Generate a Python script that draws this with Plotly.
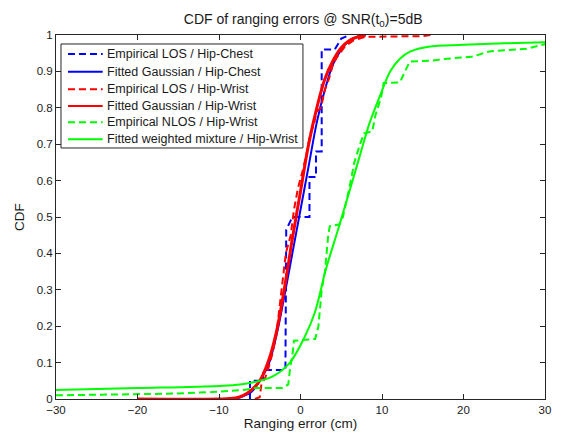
import plotly.graph_objects as go

# Empirical LOS / Hip-Chest
emp_chest_x = [-6.2, -6.2, -4.6, -4.6, -1.85, -1.75, -1.0, 1.1, 1.1, 1.9, 1.9, 2.6, 2.6, 4.2, 5.0, 6.0]
emp_chest_y = [0.0, 0.05, 0.05, 0.08, 0.08, 0.465, 0.50, 0.50, 0.61, 0.61, 0.68, 0.68, 0.96, 0.96, 0.99, 1.0]

# Fitted Gaussian / Hip-Chest
fit_chest_x = [-8, -7, -6, -5, -4, -3, -2, -1, 0, 1, 2, 3, 4, 5, 6, 7, 8]
fit_chest_y = [0.0, 0.008, 0.02, 0.05, 0.09, 0.17, 0.28, 0.40, 0.52, 0.64, 0.76, 0.85, 0.92, 0.96, 0.985, 0.995, 1.0]

# Empirical LOS / Hip-Wrist
emp_wrist_x = [-5.6, -5.0, -4.8, -4.3, -4.0, -3.5, -3.0, -2.6, -2.2, -1.8, -1.2, -0.8, -0.3, 0.3, 0.8, 1.2, 1.6,
               2.0, 2.5, 3.0, 3.5, 4.0, 4.5, 5.5, 6.5, 8.0, 15.0, 16.0]
emp_wrist_y = [0.0, 0.005, 0.04, 0.06, 0.08, 0.12, 0.17, 0.25, 0.33, 0.40, 0.45, 0.52, 0.58, 0.63, 0.68, 0.73, 0.75,
               0.79, 0.80, 0.85, 0.88, 0.92, 0.94, 0.97, 0.985, 0.995, 0.997, 1.0]

# Fitted Gaussian / Hip-Wrist
fit_wrist_x = [-20, -10, -8, -7, -6, -5, -4, -3, -2, -1, 0, 1, 2, 3, 4, 5, 6, 7, 8]
fit_wrist_y = [0.0, 0.0, 0.003, 0.01, 0.025, 0.05, 0.10, 0.18, 0.30, 0.44, 0.57, 0.70, 0.80, 0.88, 0.93, 0.965, 0.985, 0.995, 1.0]

# Empirical NLOS / Hip-Wrist
emp_nlos_x = [-30, -20, -15, -10, -7, -5.5, -2.2, -1.5, -1.3, -1.0, -0.8, 1.8, 2.2, 2.6, 3.0, 3.4, 3.6, 4.8, 5.2,
              6.0, 6.6, 7.3, 7.8, 8.8, 9.2, 9.9, 10.2, 12.2, 12.8, 13.4, 16.3, 18, 21, 23.2, 27.7, 30]
emp_nlos_y = [0.01, 0.012, 0.015, 0.02, 0.025, 0.03, 0.03, 0.04, 0.08, 0.12, 0.16, 0.165, 0.20, 0.30, 0.35, 0.45,
              0.475, 0.48, 0.50, 0.58, 0.65, 0.70, 0.73, 0.735, 0.78, 0.83, 0.868, 0.87, 0.90, 0.927, 0.93, 0.935,
              0.94, 0.955, 0.962, 0.975]

# Fitted weighted mixture / Hip-Wrist
fit_nlos_x = [-30, -20, -10, -7.4, -5, -3.4, -1.3, 0.5, 1.75, 3.1, 4.6, 6.0, 7.3, 8.5, 9.7, 11, 12.2, 13.5, 15.7, 20, 25, 30]
fit_nlos_y = [0.025, 0.03, 0.036, 0.04, 0.05, 0.062, 0.10, 0.17, 0.237, 0.355, 0.465, 0.57, 0.67, 0.76, 0.83, 0.90,
              0.935, 0.955, 0.968, 0.973, 0.977, 0.98]

x_ticks = [-30, -20, -10, 0, 10, 20, 30]
y_ticks = [0, 0.1, 0.2, 0.3, 0.4, 0.5, 0.6, 0.7, 0.8, 0.9, 1]
y_tick_labels = ["0", "0.1", "0.2", "0.3", "0.4", "0.5", "0.6", "0.7", "0.8", "0.9", "1"]

BLUE = "rgb(0,0,255)"
RED = "rgb(255,0,0)"
GREEN = "rgb(0,255,0)"
DASH = "7px,4px"
TXT = "#1a1a1a"

series = [
    ("Empirical LOS / Hip-Chest", emp_chest_x, emp_chest_y, BLUE, 2, DASH, "linear"),
    ("Fitted Gaussian / Hip-Chest", fit_chest_x, fit_chest_y, BLUE, 2, "solid", "spline"),
    ("Empirical LOS / Hip-Wrist", emp_wrist_x, emp_wrist_y, RED, 2, DASH, "linear"),
    ("Fitted Gaussian / Hip-Wrist", fit_wrist_x, fit_wrist_y, RED, 3, "solid", "spline"),
    ("Empirical NLOS / Hip-Wrist", emp_nlos_x, emp_nlos_y, GREEN, 2, DASH, "linear"),
    ("Fitted weighted mixture / Hip-Wrist", fit_nlos_x, fit_nlos_y, GREEN, 2, "solid", "spline"),
]

fig = go.Figure()
for name, xs, ys, col, w, dash, shape in series:
    fig.add_trace(go.Scatter(x=xs, y=ys, mode="lines", name=name, showlegend=False,
                             line=dict(color=col, width=w, dash=dash, shape=shape)))

# Legend box drawn in MATLAB style (paper coordinates of the plot area)
shapes = [dict(type="rect", xref="paper", yref="paper", x0=0.0102, x1=0.505, y0=0.6896, y1=0.9753,
               line=dict(color="#262626", width=1), fillcolor="white", layer="above")]
annotations = []
row_y = [0.9478, 0.8992, 0.8508, 0.8049, 0.7602, 0.7135]
for (name, xs, ys, col, w, dash, shape), ry in zip(series, row_y):
    shapes.append(dict(type="line", xref="paper", yref="paper", x0=0.0245, x1=0.0955, y0=ry, y1=ry,
                       line=dict(color=col, width=2, dash=dash), layer="above"))
    annotations.append(dict(text=name, xref="paper", yref="paper", x=0.1002, y=ry, xanchor="left",
                            yanchor="middle", showarrow=False, font=dict(size=12.5, color=TXT)))

axis_common = dict(showline=True, linecolor="#262626", linewidth=1, mirror="ticks", ticks="inside",
                   ticklen=5, tickcolor="#262626", showgrid=False, zeroline=False, automargin=False,
                   tickfont=dict(size=11.5, color=TXT))

fig.update_layout(
    width=557, height=428,
    margin=dict(l=48, r=20, t=27, b=37),
    paper_bgcolor="white", plot_bgcolor="white",
    font=dict(family="Liberation Sans, Arial, sans-serif", size=12, color=TXT),
    title=dict(text="CDF of ranging errors @ SNR(t<sub>0</sub>)=5dB", x=0.53, xanchor="center",
               y=0.975, yanchor="middle", font=dict(size=14, color=TXT)),
    xaxis=dict(range=[-30, 30], tickvals=x_ticks, title=dict(text="Ranging error (cm)", standoff=3,
               font=dict(size=13.5)), **axis_common),
    yaxis=dict(range=[0, 1], tickvals=y_ticks, ticktext=y_tick_labels, title=dict(text="CDF", standoff=8,
               font=dict(size=13.5)), **axis_common),
    shapes=shapes,
    annotations=annotations,
    showlegend=False,
)

fig.write_html("out.html")
